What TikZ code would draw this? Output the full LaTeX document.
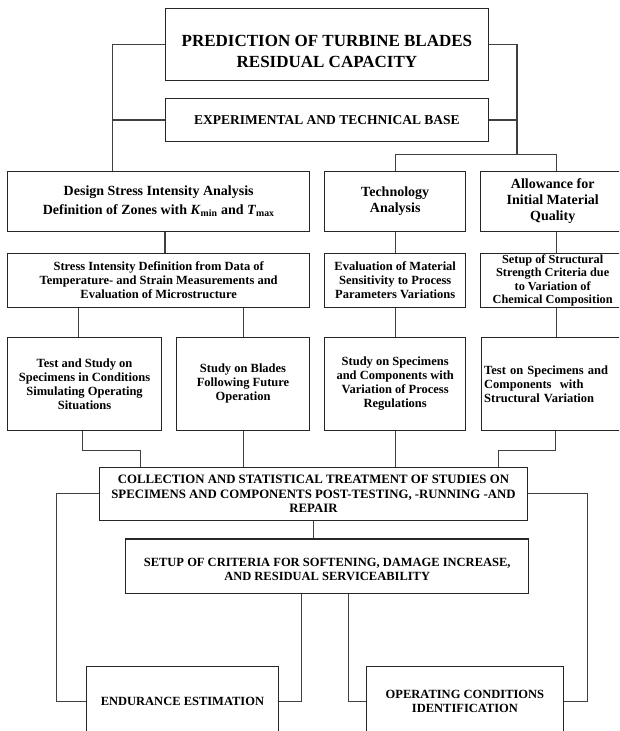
\documentclass[tikz,border=0pt]{standalone}
\usepackage{fontspec}
\setmainfont{Liberation Serif}
\usetikzlibrary{positioning, calc}

\begin{document}
\begin{tikzpicture}[
  x=1pt, y=-1pt,
  every node/.style={font=\bfseries\fontsize{12.5}{14}\selectfont},
  block/.style={
    draw=black!85, line width=1.4pt, align=center,
    inner sep=3pt
  },
  head/.style={block, font=\bfseries\fontsize{14}{16}\selectfont},
  titlebox/.style={block, font=\bfseries\fontsize{17}{21}\selectfont},
  capsbox/.style={block, font=\bfseries\fontsize{12.8}{14.5}\selectfont},
  link/.style={draw=black!75, line width=1.1pt}
]
  \useasboundingbox (0,0) rectangle (619,731);
  \clip (0,0) rectangle (619,731);

  % Top of the tree
  \node[titlebox, anchor=north west, minimum width=322.5pt, minimum height=71.5pt] (top) at (165,8)
    {\rule{0pt}{25pt}PREDICTION OF TURBINE BLADES\\RESIDUAL CAPACITY};
  \node[capsbox, font=\bfseries\fontsize{13.5}{14.5}\selectfont, minimum width=322.5pt, minimum height=43.3pt,
    below=16.7pt of top] (exp) {EXPERIMENTAL AND TECHNICAL BASE};

  % First row
  \node[head, anchor=north west, minimum width=302pt, minimum height=60.5pt] (design) at (7,170.5)
    {Design Stress Intensity Analysis\\[3pt]
     Definition of Zones with \textit{K}\textsubscript{min} and \textit{T}\textsubscript{max}};
  \node[head, anchor=north west, minimum width=141pt, minimum height=60.5pt] (tech) at (324,170.5)
    {Technology\\Analysis};
  \node[head, anchor=north west, minimum width=144pt, minimum height=60.5pt] (allow) at (480,170.5)
    {Allowance for\\Initial Material\\Quality};

  % Second row
  \node[block, anchor=north west, minimum width=302pt, minimum height=54pt] (stress) at (7,252.7)
    {Stress Intensity Definition from Data of\\
     Temperature- and Strain Measurements and\\
     Evaluation of Microstructure};
  \node[block, anchor=north west, minimum width=141pt, minimum height=54pt] (eval) at (324,252.7)
    {Evaluation of Material\\Sensitivity to Process\\Parameters Variations};
  \node[block, anchor=north west, minimum width=144pt, minimum height=54pt, inner ysep=0pt,
    font=\bfseries\fontsize{12.3}{13.5}\selectfont] (struct) at (480,252.7)
    {Setup of Structural\\Strength Criteria due\\to Variation of\\Chemical Composition};

  % Third row
  \node[block, anchor=north west, minimum width=153.7pt, minimum height=93pt] (testsim) at (7,336.7)
    {Test and Study on\\Specimens in Conditions\\Simulating Operating\\Situations};
  \node[block, anchor=north west, minimum width=133.3pt, minimum height=93pt] (blades) at (175.7,336.7)
    {Study on Blades\\Following Future\\Operation};
  \node[block, anchor=north west, minimum width=141pt, minimum height=93pt] (specproc) at (324,336.7)
    {Study on Specimens\\and Components with\\Variation of Process\\Regulations};
  \node[block, anchor=north west, text width=137.5pt, align=left, minimum height=93pt] (specstruct) at (480.5,336.7)
    {Test on Specimens and\\Components\ \ with\\Structural Variation};

  % Collection and criteria
  \node[capsbox, anchor=north west, minimum width=428.5pt, minimum height=52.8pt] (collect) at (98.5,466.7)
    {COLLECTION AND STATISTICAL TREATMENT OF STUDIES ON\\
     SPECIMENS AND COMPONENTS POST-TESTING, -RUNNING -AND\\
     REPAIR};
  \node[block, anchor=north west, minimum width=403pt, minimum height=54.4pt] (criteria) at (125,538.3)
    {\rule{0pt}{14pt}SETUP OF CRITERIA FOR SOFTENING, DAMAGE INCREASE,\\
     AND RESIDUAL SERVICEABILITY};

  % Results
  \node[block, anchor=north west, minimum width=192.5pt, minimum height=70pt] (endur) at (85.5,665.7)
    {ENDURANCE ESTIMATION};
  \node[block, anchor=north west, minimum width=197.5pt, minimum height=70pt] (operat) at (365.5,665.7)
    {OPERATING CONDITIONS\\IDENTIFICATION};

  % Left and right buses from the top
  \draw[link] (top.west) -| ([xshift=-46pt]design.north);
  \draw[link] (exp.west) -- ++(-53,0);
  \coordinate (split) at (517,154.3);
  \draw[link] (top.east) -| (split);
  \draw[link] (exp.east) -- (exp.east -| split);
  \draw[link] (tech.north) |- (split);
  \draw[link] ([xshift=4pt]allow.north) |- (split);

  % Down the columns
  \draw[link] ([xshift=6.3pt]design.south) -- ([xshift=6.3pt]stress.north);
  \draw[link] (tech) -- (eval);
  \draw[link] ([xshift=4pt]allow.south) -- ([xshift=4pt]struct.north);
  \draw[link] ([xshift=-6pt]testsim.north) -- ([xshift=-6pt]testsim.north |- stress.south);
  \draw[link] (blades.north) -- (blades.north |- stress.south);
  \draw[link] (eval) -- (specproc);
  \draw[link] ([xshift=4pt]struct.south) -- ([xshift=3.75pt]specstruct.north);

  % Into the collection box
  \draw[link] ([xshift=-2pt]testsim.south) -- ++(0,19.5) -| ([xshift=-172.75pt]collect.north);
  \draw[link] (blades.south) -- (blades.south |- collect.north);
  \draw[link] (specproc.south) -- (specproc.south |- collect.north);
  \draw[link] ([xshift=2.75pt]specstruct.south) -- ++(0,19.5) -| ([xshift=185.25pt]collect.north);
  \draw[link] (collect.south) -- (collect.south |- criteria.north);

  % Towards the results
  \draw[link] (collect.west) -- ++(-42,0) |- (endur.west);
  \draw[link] (collect.east) -- ++(59,0) |- (operat.east);
  \draw[link] ([xshift=-25.8pt]criteria.south) |- (endur.east);
  \draw[link] ([xshift=21.2pt]criteria.south) |- (operat.west);

\end{tikzpicture}
\end{document}
